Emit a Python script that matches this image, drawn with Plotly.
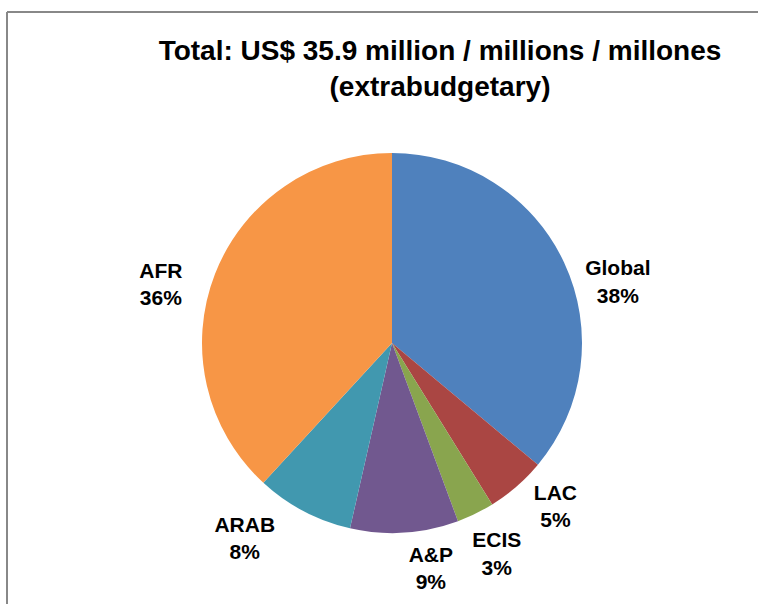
import plotly.graph_objects as go

# Data
regions = ["Global", "LAC", "ECIS", "A&P", "ARAB", "AFR"]
shares = [36.1, 5.1, 3.2, 9.2, 8.3, 38.2]          # slice sizes as drawn
pct_labels = ["38%", "5%", "3%", "9%", "8%", "36%"]  # printed labels
colors = ["#4F81BD", "#AA4643", "#89A54E", "#71588F", "#4198AF", "#F79646"]

# style: angular nudge (degrees) and extra distance (px) of each outside label,
# mimicking the source's label layout
label_nudge = {"Global": 7, "LAC": 0, "ECIS": 6.3, "A&P": 2.6, "ARAB": 2.9, "AFR": -5.2}
label_gap = {"Global": 0, "LAC": 7, "ECIS": 10, "A&P": 10, "ARAB": 15, "AFR": 15}

W, H = 758, 604
cx, cy, r = 392, 343, 190


def pie_domain(radius):
    return dict(x=[(cx - radius) / W, (cx + radius) / W],
                y=[(H - cy - radius) / H, (H - cy + radius) / H])


label_text = [f"{n}<br>{p}" for n, p in zip(regions, pct_labels)]
font = dict(family="Liberation Sans", size=21, color="black", weight="bold")

fig = go.Figure()
# the coloured pie itself
fig.add_trace(go.Pie(
    labels=regions, values=shares, sort=False, direction="clockwise", rotation=0,
    textinfo="none", textposition="none",
    marker=dict(colors=colors, line=dict(width=0)),
    showlegend=False, hoverinfo="skip", domain=pie_domain(r),
))
# one transparent layer per data label, so labels are placed independently
for name in regions:
    fig.add_trace(go.Pie(
        labels=regions, values=shares, sort=False, direction="clockwise",
        rotation=label_nudge[name],
        text=label_text, textinfo="text",
        textposition=["outside" if n == name else "none" for n in regions],
        marker=dict(colors=["rgba(0,0,0,0)"] * len(regions), line=dict(width=0)),
        textfont=font, showlegend=False, hoverinfo="skip",
        domain=pie_domain(r + label_gap[name]),
    ))

fig.update_layout(
    width=W, height=H,
    margin=dict(l=0, r=0, t=0, b=0),
    paper_bgcolor="white",
    plot_bgcolor="white",
    title=dict(
        text="Total: US$ 35.9 million / millions / millones<br>(extrabudgetary)",
        x=440 / W, xanchor="center",
        y=1 - 60 / H, yanchor="top", yref="container",
        font=dict(family="Liberation Sans", size=28, color="black", weight="bold"),
    ),
    shapes=[
        dict(type="line", xref="paper", yref="paper", x0=7 / W, x1=1, y0=1 - 12 / H, y1=1 - 12 / H,
             line=dict(color="#888888", width=2)),
        dict(type="line", xref="paper", yref="paper", x0=7 / W, x1=7 / W, y0=0, y1=1 - 12 / H,
             line=dict(color="#888888", width=2)),
    ],
)

fig.write_html(
    "out.html",
    config={"displayModeBar": False},
    post_script="document.body.style.margin='0';document.body.style.overflow='hidden';",
)
